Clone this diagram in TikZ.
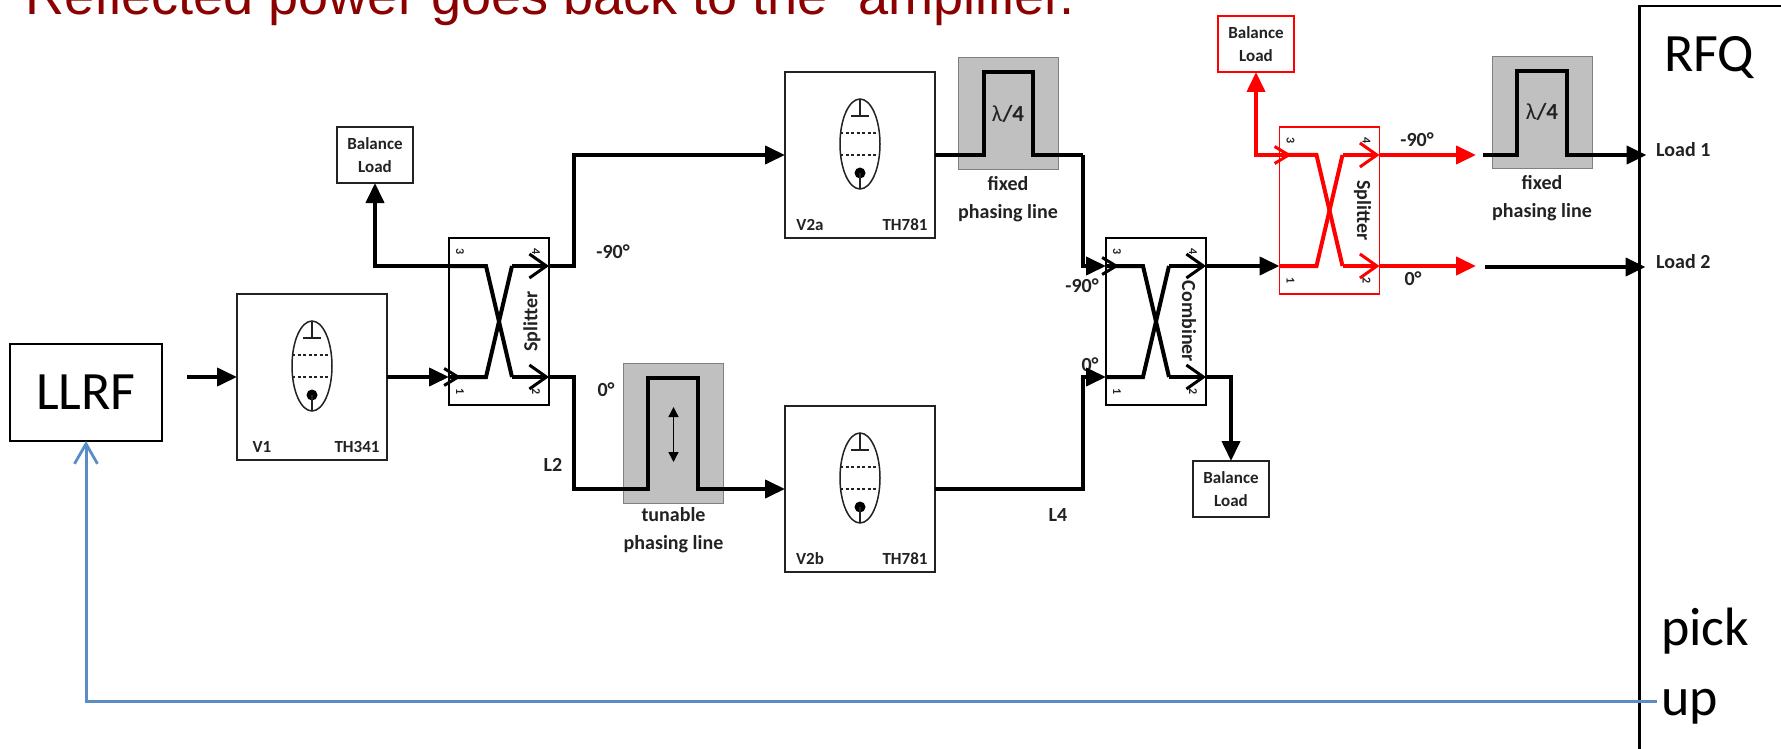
\documentclass[tikz,border=0pt]{standalone}
\usepackage{fontspec}
\setmainfont{Carlito}
\newfontfamily\headfont{Liberation Sans}
\usetikzlibrary{arrows.meta, positioning, calc}
\definecolor{RFred}{HTML}{FF0000}
\definecolor{RFhead}{HTML}{8B0000}
\definecolor{RFblue}{HTML}{5B8CC6}
\definecolor{RFgray}{HTML}{C0C0C0}
\definecolor{RFedge}{HTML}{808080}
\definecolor{RFink}{HTML}{222222}
\tikzset{
  bigbox/.style={rectangle, draw=black, line width=2.2pt, fill=white, inner sep=0pt, outer sep=0pt},
  ampbox/.style={rectangle, draw=RFink, line width=1.8pt, fill=white, minimum width=150pt,
    minimum height=166pt, inner sep=0pt, outer sep=0pt},
  ballbox/.style={rectangle, draw=RFink, line width=1.6pt, fill=white, minimum width=76pt,
    minimum height=56pt, inner sep=0pt, outer sep=0pt, align=center, text=RFink,
    font=\fontsize{17}{23}\selectfont\bfseries},
  couplerbox/.style={rectangle, line width=1.5pt, minimum width=100pt,
    minimum height=167pt, inner sep=0pt, outer sep=0pt},
  phasebox/.style={rectangle, draw=RFedge, line width=1pt, fill=RFgray, minimum width=100pt,
    inner sep=0pt, outer sep=0pt},
  rfline/.style={line width=4pt, draw=black, line join=miter},
  rfarr/.style={rfline, -{Stealth[inset=0pt,length=20pt,width=18pt]}},
  barbr/.style={rfline, -{Straight Barb[length=17pt,width=24pt,line width=3pt]}},
  barbl/.style={rfline, -{Straight Barb[length=14pt,width=17pt,line width=3pt]}},
  tunarr/.style={{Stealth[inset=0pt,length=10pt,width=10pt]}-{Stealth[inset=0pt,length=10pt,width=10pt]}, line width=1.4pt, draw=black},
  pickline/.style={-{Straight Barb[length=20pt,width=23pt,line width=2.8pt]}, line width=3pt, draw=RFblue},
  tubeline/.style={line width=1.5pt, draw=RFink},
  biglbl/.style={text=black, inner sep=0pt, font=\fontsize{54}{70}\selectfont},
  smlbl/.style={text=RFink, inner sep=0pt, font=\fontsize{17}{20}\selectfont\bfseries},
  deglbl/.style={text=RFink, inner sep=0pt, align=center, font=\fontsize{20}{28}\selectfont\bfseries},
  lamlbl/.style={text=RFink, inner sep=0pt, font=\fontsize{23}{28}\selectfont\bfseries},
  linelbl/.style={smlbl, font=\fontsize{20}{20}\selectfont\bfseries},
  portlbl/.style={text=RFink, inner sep=0pt, rotate=-90, font=\fontsize{12}{14}\selectfont\bfseries},
  sidelbl/.style={text=RFink, inner sep=0pt, font=\fontsize{20}{20}\selectfont\bfseries},
  tube/.pic={
    \draw[tubeline] (0,0) ellipse [x radius=20pt, y radius=45pt];
    \draw[tubeline] (0,-45)--(0,-28) (-9,-28)--(9,-28);
    \draw[tubeline, dash pattern=on 3pt off 2.5pt] (-20,-11)--(20,-11) (-20,11)--(20,11);
    \fill[black] (0,29) circle [radius=5.5pt];
    \draw[tubeline] (0,29)--(0,45);
  },
}
% name, x, y, colour, text, angle of the text
\newcommand{\coupler}[6]{
  \node[couplerbox, draw=#4] (#1) at (#2,#3) {};
  \coordinate (#1-p3) at ($(#1)+(-50,-55.5)$);
  \coordinate (#1-p4) at ($(#1)+(50,-55.5)$);
  \coordinate (#1-p1) at ($(#1)+(-50,55.5)$);
  \coordinate (#1-p2) at ($(#1)+(50,55.5)$);
  \coordinate (#1-b3) at ($(#1)+(-13,-55.5)$);
  \coordinate (#1-b4) at ($(#1)+(13,-55.5)$);
  \coordinate (#1-b1) at ($(#1)+(-13,55.5)$);
  \coordinate (#1-b2) at ($(#1)+(13,55.5)$);
  \draw[rfline, draw=#4] (#1-p3)--(#1-b3)--(#1-b2);
  \draw[rfline, draw=#4] (#1-p1)--(#1-b1)--(#1-b4);
  \draw[barbr, draw=#4] (#1-b4)--(#1-p4);
  \draw[barbr, draw=#4] (#1-b2)--(#1-p2);
  \node[portlbl] (#1-n3) at ($(#1)+(-39,-70)$) {3};
  \node[portlbl] (#1-n4) at ($(#1)+(37,-70)$) {4};
  \node[portlbl] (#1-n1) at ($(#1)+(-39,70)$) {1};
  \node[portlbl] (#1-n2) at ($(#1)+(37,70)$) {2};
  \node[sidelbl, rotate=#6] (#1-name) at ($(#1)+(33,0)$) {#5};
}

\begin{document}
\begin{tikzpicture}[x=1pt, y=-1pt]
  \useasboundingbox (0,0) rectangle (1781,749);
  %% Heading and the large blocks
  \node[anchor=base west, inner sep=0pt, text=RFhead, font=\fontsize{54.1}{60}\selectfont\headfont] (head)
        at (25,15) {Reflected power goes back to the\ \ amplifier.};
  \node[bigbox, minimum width=152pt, minimum height=97pt] (llrf) at (86,392.5) {};
  \node[biglbl] (llrft) at (llrf) {LLRF};
  \node[bigbox, anchor=north west, minimum width=300pt, minimum height=900pt] (rfq) at (1639.5,6) {};
  \node[biglbl, anchor=base west] (rfqt) at (1664,72) {RFQ};
  \node[biglbl, anchor=base west] (pickt) at (1661,645) {pick};
  \node[biglbl, anchor=base west] (upt) at (1661,715) {up};
  %% Grey phasing lines
  \node[phasebox, minimum height=112pt] (fixa) at (1008,114) {};
  \node[phasebox, minimum height=112pt] (fixb) at (1542,113) {};
  \node[phasebox, minimum height=140pt] (tun) at (673.5,433) {};
  \node[lamlbl] (lama) at (1008,114) {{\normalfont λ}/4};
  \node[lamlbl] (lamb) at (1542,112) {{\normalfont λ}/4};
  \node[deglbl, below=6pt of fixa] (fixal) {fixed\\phasing line};
  \node[deglbl, below=6pt of fixb] (fixbl) {fixed\\phasing line};
  \node[deglbl, below=4pt of tun] (tunl) {tunable\\phasing line};
  \coordinate (fixa-l) at (984,72);
  \coordinate (fixa-r) at (1033,72);
  \coordinate (fixb-l) at (1517,71);
  \coordinate (fixb-r) at (1567,71);
  \coordinate (tun-l) at (648,378);
  \coordinate (tun-r) at (698,378);
  \coordinate (tun-a) at ($(tun)+(0,-26)$);
  \coordinate (tun-b) at ($(tun)+(0,29)$);
  \draw[tunarr] (tun-a) -- (tun-b);
  %% Amplifiers
  \node[ampbox] (v1) at (312,377) {};
  \node[ampbox] (v2a) at (860,155) {};
  \node[ampbox, below=168pt of v2a] (v2b) {};
  \pic at ($(v1)+(0,-11)$) {tube};
  \pic at ($(v2a)+(0,-11)$) {tube};
  \pic at ($(v2b)+(0,-11)$) {tube};
  \node[smlbl] (v1n) at ($(v1)+(-50,70)$) {V1};
  \node[smlbl] (v1t) at ($(v1)+(45,70)$) {TH341};
  \node[smlbl] (v2an) at ($(v2a)+(-50,70)$) {V2a};
  \node[smlbl] (v2at) at ($(v2a)+(45,70)$) {TH781};
  \node[smlbl] (v2bn) at ($(v2b)+(-50,70)$) {V2b};
  \node[smlbl] (v2bt) at ($(v2b)+(45,70)$) {TH781};
  %% Balance loads
  \node[ballbox] (bala) at (375,155) {Balance\\Load};
  \node[ballbox] (balb) at (1231,489) {Balance\\Load};
  \node[ballbox, draw=RFred] (balc) at (1256,44) {Balance\\Load};
  %% Couplers
  \coupler{spa}{499}{321.5}{black}{Splitter}{90}
  \coupler{cmb}{1156}{321.5}{black}{Combiner}{-90}
  \coupler{spb}{1329.5}{210.5}{RFred}{Splitter}{-90}
  %% Angles and other labels
  \node[deglbl] (dga) at (613,252) {-90°};
  \node[deglbl] (dgb) at (606,390) {0°};
  \node[deglbl] (dgc) at (1082,286) {-90°};
  \node[deglbl] (dgd) at (1090,365) {0°};
  \node[deglbl] (dge) at (1417,140) {-90°};
  \node[deglbl] (dgf) at (1413,279) {0°};
  \node[linelbl] (ltwo) at (553,465) {L2};
  \node[linelbl] (lfour) at (1058,515) {L4};
  \node[linelbl, anchor=west] (loada) at (1656,150) {Load 1};
  \node[linelbl, anchor=west] (loadb) at (1656,262) {Load 2};
  %% Arrows
  \coordinate (v1in) at (187,377);
  \coordinate (cmbj) at (1082.5,155);
  \coordinate (fixbin) at (1476,155);
  \coordinate (fixbout) at (1483,155);
  \coordinate (lbin) at (1476,266);
  \coordinate (lbout) at (1485,267);
  \coordinate (pk) at (1657,701);
  \draw[rfarr] (v1in) -- (v1.west);
  \draw[rfarr] (v1.east) -- (spa-p1);
  \draw[barbl] (spa-p1) -- ++(12,0);
  \draw[rfarr] (spa-p3) -| (bala.south);
  \draw[rfarr] (spa-p4) -- ++(25,0) |- (v2a.west);
  \draw[rfarr] (spa-p2) -- ++(25,0) |- (tun-l |- v2b) -- (tun-l) -- (tun-r) -- (tun-r |- v2b) -- (v2b.west);
  \draw[rfline] (v2a.east) -| (fixa-l) -- (fixa-r) |- (cmbj);
  \draw[rfarr] (cmbj) |- (cmb-p3);
  \draw[barbl] (cmb-p3) -- ++(13,0);
  \draw[rfarr] (v2b.east) -- (cmbj |- v2b) |- (cmb-p1);
  \draw[rfarr] (cmb-p4) -- (spb-p1);
  \draw[rfarr] (cmb-p2) -| (balb.north);
  \draw[rfarr, draw=RFred] (spb-p3) -| (balc.south);
  \draw[barbl, draw=RFred] (spb-p3) -- ++(12,0);
  \draw[rfarr, draw=RFred] (spb-p4) -- (fixbin);
  \draw[rfarr, draw=RFred] (spb-p2) -- (lbin);
  \draw[rfarr, shorten >=-7pt] (fixbout) -- (fixb-l |- fixbout) -- (fixb-l) -- (fixb-r) -- (fixb-r |- fixbout) -- (rfq.west |- fixbout);
  \draw[rfarr, shorten >=-6pt] (lbout) -- (rfq.west |- lbout);
  \draw[pickline] (pk) -| (llrf.south);
\end{tikzpicture}
\end{document}
